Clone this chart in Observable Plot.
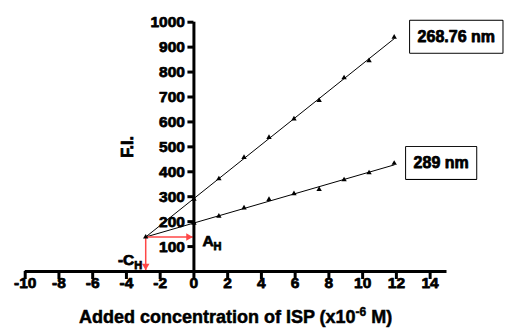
<!DOCTYPE html>
<html>
<head>
<meta charset="utf-8">
<script src="https://cdn.jsdelivr.net/npm/d3@7"></script>
<script src="https://cdn.jsdelivr.net/npm/@observablehq/plot@0.6"></script>
<style>
  body { margin: 0; background: #fff; }
  #chart svg { display: block; }
</style>
</head>
<body>
<div id="chart"></div>
<script>
// Standard-addition data: fluorescence intensity vs. added ISP (x10^-6 M)
const conc = [0, 1.48, 2.97, 4.45, 5.93, 7.42, 8.90, 10.38, 11.87];
const fi268 = [290, 372, 458, 538, 612, 686, 777, 846, 940];
const fi289 = [194, 222, 255, 289, 312, 329, 368, 396, 434];
const seriesNames = ["268.76 nm", "289 nm"];

const xTicks = [-10, -8, -6, -4, -2, 0, 2, 4, 6, 8, 10, 12, 14];
const yTicks = [100, 200, 300, 400, 500, 600, 700, 800, 900, 1000];
const xDomain = [-10, 15];
const yDomain = [0, 1000];
const xTitle = ["Added concentration of ISP (x10", "-6", " M)"];
const yTitle = "F.I.";

const RED = "#ff4747";
const FONT = "'Liberation Sans', Arial, Helvetica, sans-serif";

// least-squares line through each series
function fit(xs, ys) {
  const mx = d3.mean(xs), my = d3.mean(ys);
  let sxy = 0, sxx = 0;
  xs.forEach((x, i) => { sxy += (x - mx) * (ys[i] - my); sxx += (x - mx) ** 2; });
  const slope = sxy / sxx;
  return { slope, intercept: my - slope * mx };
}
const f1 = fit(conc, fi268);
const f2 = fit(conc, fi289);

// the two fitted lines meet at (-C_H, A_H)
const cH = (f2.intercept - f1.intercept) / (f1.slope - f2.slope);
const aH = f1.intercept + f1.slope * cH;
const xMax = d3.max(conc);

const fitLines = [f1, f2].flatMap((f, i) =>
  [cH, xMax].map(x => ({ series: i, x, y: f.intercept + f.slope * x })));
const points = conc.flatMap((x, i) => [
  { series: 0, x, y: fi268[i] },
  { series: 1, x, y: fi289[i] }
]);
const last = conc.length - 1;

const W = 505, H = 328;
const mL = 24.7, mR = 58.5, mT = 21.7, mB = 57;
const pxX = (W - mL - mR) / (xDomain[1] - xDomain[0]);
const pxY = (H - mT - mB) / (yDomain[1] - yDomain[0]);
// heavy labels: bold face with a hairline outline in the same colour
const heavy = { fontWeight: "bold", fill: "black", stroke: "black", strokeWidth: 0.75 };

const plot = Plot.plot({
  width: W,
  height: H,
  marginLeft: mL,
  marginRight: mR,
  marginTop: mT,
  marginBottom: mB,
  x: { domain: xDomain, axis: null },
  y: { domain: yDomain, axis: null },
  style: {
    fontFamily: FONT,
    fontSize: "15.5px",
    color: "black",
    background: "white",
    overflow: "visible"
  },
  marks: [
    // fitted lines
    Plot.line(fitLines, { x: "x", y: "y", z: "series", stroke: "black", strokeWidth: 1 }),
    // red construction arrows from the intersection to both axes
    Plot.link([{ x1: cH, y1: aH, x2: 0, y2: aH }], { x1: "x1", y1: "y1", x2: "x2", y2: "y2", stroke: RED, strokeWidth: 1.5 }),
    Plot.link([{ x1: cH, y1: aH, x2: cH, y2: 0 }], { x1: "x1", y1: "y1", x2: "x2", y2: "y2", stroke: RED, strokeWidth: 1.5 }),
    // axes
    Plot.ruleY([0], { x1: xDomain[0], x2: xDomain[1], strokeWidth: 3 }),
    Plot.ruleX([0], { y1: yDomain[0], y2: yDomain[1], strokeWidth: 3 }),
    Plot.ruleX(xTicks, { x: d => d, y1: 0, y2: -8 / pxY, strokeWidth: 3 }),
    Plot.ruleY(yTicks, { y: d => d, x1: -6 / pxX, x2: 0, strokeWidth: 3 }),
    Plot.text(yTicks, { x: 0, y: d => d, text: d => String(d), textAnchor: "end", lineAnchor: "middle", dx: -9, ...heavy }),
    Plot.text(xTicks, { x: d => d, y: 0, text: d => String(d), lineAnchor: "bottom", dy: 16, ...heavy }),
    Plot.text([yTitle], { x: 0, frameAnchor: "middle", rotate: -90, lineAnchor: "bottom", dx: -61, fontSize: 16.5, ...heavy }),
    // arrowheads
    Plot.dot([{ x: 0, y: aH }], { x: "x", y: "y", symbol: "triangle", r: 2.8, fill: RED, rotate: 90, dx: -5.5 }),
    Plot.dot([{ x: cH, y: 0 }], { x: "x", y: "y", symbol: "triangle", r: 2.8, fill: RED, rotate: 180, dy: -5.5 }),
    // data points and intersection point
    Plot.dot(points, { x: "x", y: "y", symbol: "triangle", r: 2, fill: "black" }),
    Plot.dot([{ x: cH, y: aH }], { x: "x", y: "y", symbol: "triangle", r: 2, fill: "black" }),
    // series labels beside the last point
    Plot.text([{ x: conc[last], y: fi268[last], t: seriesNames[0] }], {
      x: "x", y: "y", text: "t", textAnchor: "start", lineAnchor: "middle", dx: 23.4, fontSize: 16, className: "series-label", ...heavy
    }),
    Plot.text([{ x: conc[last], y: fi289[last], t: seriesNames[1] }], {
      x: "x", y: "y", text: "t", textAnchor: "start", lineAnchor: "middle", dx: 19.4, fontSize: 16, className: "series-label", ...heavy
    })
  ]
});

document.getElementById("chart").appendChild(plot);

const svg = d3.select(plot);
const xs = plot.scale("x").apply;
const ys = plot.scale("y").apply;

// every label in the bold face, drawn solid
svg.selectAll("text")
  .style("font-weight", "bold")
  .style("font-family", FONT)
  .style("paint-order", "normal");

// framed boxes round the series labels
svg.selectAll(".series-label text").each(function () {
  const bb = this.getBBox();
  const cy = bb.y + bb.height / 2;
  d3.select(this.parentNode).insert("rect", () => this)
    .attr("transform", this.getAttribute("transform"))
    .attr("x", bb.x - 7.5)
    .attr("y", cy - 16)
    .attr("width", bb.width + 15)
    .attr("height", 32)
    .attr("fill", "white")
    .attr("stroke", "black")
    .attr("stroke-width", 2);
});

// text with sub/superscripts
function richText(x, y, anchor, parts, size, weight) {
  const t = svg.append("text")
    .attr("x", x).attr("y", y)
    .attr("text-anchor", anchor)
    .attr("font-family", FONT)
    .attr("font-size", size)
    .attr("fill", "black")
    .attr("stroke", "black")
    .attr("stroke-width", weight)
    .style("font-weight", "bold");
  parts.forEach(p => {
    t.append("tspan")
      .attr("font-size", p.size || size)
      .attr("dy", p.dy || 0)
      .text(p.text);
  });
  return t;
}

// x-axis title
richText((mL + W - mR) / 2, H - 5, "middle", [
  { text: xTitle[0] },
  { text: xTitle[1], size: 12, dy: -7 },
  { text: xTitle[2], dy: 7 }
], 18, 0.5);

// A_H beside the y axis, -C_H above the x axis
richText(xs(0) + 9, ys(aH) + 9, "start", [
  { text: "A" },
  { text: "H", size: 11, dy: 4 }
], 15.5, 0.75);
richText(xs(cH) - 3, ys(0) - 6, "end", [
  { text: "-C" },
  { text: "H", size: 11, dy: 4 }
], 15.5, 0.75);
</script>
</body>
</html>
